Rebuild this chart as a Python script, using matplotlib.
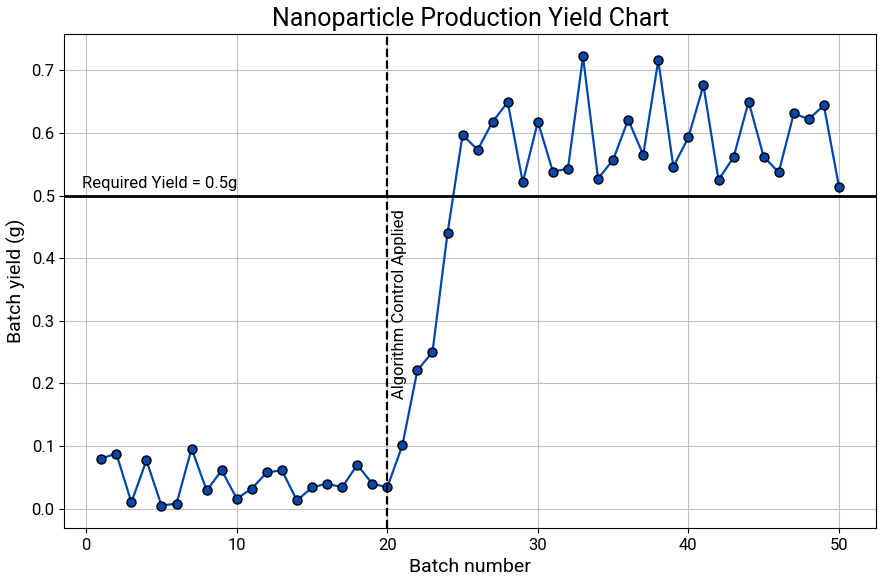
import numpy as np
import matplotlib.pyplot as plt

plt.rcParams['font.family'] = ['Roboto', 'DejaVu Sans']

batch = list(range(1, 51))
yield_g = [0.080, 0.088, 0.010, 0.077, 0.005, 0.008, 0.096, 0.029, 0.061, 0.016,
           0.032, 0.058, 0.061, 0.013, 0.034, 0.040, 0.034, 0.070, 0.040, 0.034,
           0.101, 0.221, 0.250, 0.440, 0.597, 0.573, 0.618, 0.649, 0.521, 0.618,
           0.538, 0.543, 0.722, 0.527, 0.557, 0.621, 0.565, 0.716, 0.546, 0.593,
           0.676, 0.525, 0.561, 0.650, 0.562, 0.537, 0.631, 0.622, 0.644, 0.514]
required = 0.5
control_batch = 20

fig, ax = plt.subplots(figsize=(8.82, 5.77), dpi=100)
ax.plot(batch, yield_g, color='#0047AB', marker='o', markersize=6.5,
        markeredgecolor='black', markeredgewidth=1, linewidth=1.6)
ax.axhline(required, color='black', linewidth=2)
ax.axvline(control_batch, color='black', linestyle='--', linewidth=1.6)
ax.text(-0.3, required + 0.008, 'Required Yield = 0.5g', fontsize=12, va='bottom')
ax.text(control_batch + 0.3, 0.175, 'Algorithm Control Applied', fontsize=12,
        rotation=90, va='bottom', ha='left')
ax.set_title('Nanoparticle Production Yield Chart', fontsize=18)
ax.set_xlabel('Batch number', fontsize=14)
ax.set_ylabel('Batch yield (g)', fontsize=14)
ax.tick_params(labelsize=12)
ax.grid(True, color='#c0c0c0')
ax.set_axisbelow(True)
fig.subplots_adjust(left=0.073, right=0.993, top=0.941, bottom=0.085)
fig.savefig('out.png')
